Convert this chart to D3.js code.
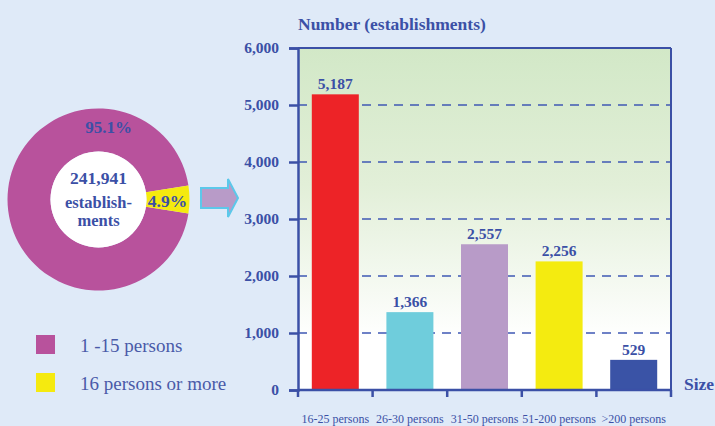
<!DOCTYPE html>
<html><head><meta charset="utf-8">
<script src="https://cdn.jsdelivr.net/npm/d3@7"></script>
<style>
html,body{margin:0;padding:0;background:#dfeaf8;}
svg{display:block;font-family:"Liberation Serif","Times New Roman",serif;}
</style></head>
<body><svg id="c" width="715" height="426"></svg>
<script>
const pieLabels = ["1 -15 persons", "16 persons or more"];
const pieValues = [95.1, 4.9];
const pieColors = ["#b8529c", "#f5ea0f"];
const totalLabel = ["241,941", "establish-", "ments"];

const categories = ["16-25 persons", "26-30 persons", "31-50 persons", "51-200 persons", ">200 persons"];
const values = [5187, 1366, 2557, 2256, 529];
const barColors = ["#ed2327", "#6fcddc", "#b89bc8", "#f4eb10", "#3a53a6"];
const yTicks = [0, 1000, 2000, 3000, 4000, 5000, 6000];

const ink = "#3b50a6";
const svg = d3.select("#c");

// ---------- Donut ----------
const cx = 98.5, cy = 199.5, rOut = 91, rIn = 48;
const pie = d3.pie().sort(null).value(d => d)
  .startAngle(Math.PI/2 + Math.PI*0.049).endAngle(Math.PI/2 + Math.PI*0.049 + 2*Math.PI);
const arcs = pie(pieValues);
const arc = d3.arc().innerRadius(rIn).outerRadius(rOut);
const dg = svg.append("g").attr("transform", `translate(${cx},${cy})`);
dg.selectAll("path").data(arcs).join("path").attr("d", arc).attr("fill", (d,i) => pieColors[i]);
dg.append("circle").attr("r", rIn).attr("fill", "#ffffff");
dg.append("text").attr("x", 10).attr("y", -72).attr("text-anchor","middle").attr("dominant-baseline","central")
  .attr("font-weight","bold").attr("font-size",17).attr("fill",ink).text(pieValues[0].toFixed(1)+"%");
dg.append("text").attr("x", 69).attr("y", 1).attr("text-anchor","middle").attr("dominant-baseline","central")
  .attr("font-weight","bold").attr("font-size",17.5).attr("fill",ink).text(pieValues[1].toFixed(1)+"%");
const cys = [-22, 2.5, 20.5];
totalLabel.forEach((t,i) => {
  dg.append("text").attr("x", 0).attr("y", cys[i]).attr("text-anchor","middle").attr("dominant-baseline","central")
    .attr("font-weight","bold").attr("font-size", i===0 ? 17.5 : 16.5).attr("fill",ink).text(t);
});

// ---------- Arrow ----------
svg.append("path")
  .attr("d","M201,188 L228,188 L228,179 L238,198 L228,217 L228,208 L201,208 Z")
  .attr("fill","#b89bc8").attr("stroke","#5cc8ea").attr("stroke-width",2);

// ---------- Legend ----------
const lg = svg.append("g");
pieLabels.forEach((t,i) => {
  const y = 335 + i*38;
  lg.append("rect").attr("x",36).attr("y",y).attr("width",19).attr("height",19).attr("fill",pieColors[i]);
  lg.append("text").attr("x",80).attr("y",y+10).attr("dominant-baseline","central")
    .attr("font-size",19).attr("fill","#4a5aa8").text(t);
});

// ---------- Bar chart ----------
const x0 = 298, x1 = 671, yTop = 48, yBot = 390;
const x = d3.scaleBand().domain(categories).range([x0, x1]).paddingInner(0.37).paddingOuter(0.185);
const y = d3.scaleLinear().domain([0, 6000]).range([yBot, yTop]);

const defs = svg.append("defs");
const grad = defs.append("linearGradient").attr("id","bg").attr("x1",0).attr("y1",0).attr("x2",0).attr("y2",1);
grad.append("stop").attr("offset","0%").attr("stop-color","#d2e8c7");
grad.append("stop").attr("offset","40%").attr("stop-color","#e2efd8");
grad.append("stop").attr("offset","85%").attr("stop-color","#ffffff");
grad.append("stop").attr("offset","100%").attr("stop-color","#ffffff");

svg.append("rect").attr("x",x0).attr("y",yTop).attr("width",x1-x0).attr("height",yBot-yTop).attr("fill","url(#bg)");

// grid
svg.append("g").selectAll("line").data(yTicks.filter(d => d>0 && d<6000)).join("line")
  .attr("x1",x0).attr("x2",x1).attr("y1",d=>y(d)).attr("y2",d=>y(d))
  .attr("stroke","#3f58b4").attr("stroke-width",1.3).attr("stroke-dasharray","9,7");

// bars
svg.append("g").selectAll("rect").data(values).join("rect")
  .attr("x",(d,i)=>x(categories[i])).attr("width",x.bandwidth())
  .attr("y",d=>y(d)).attr("height",d=>yBot-y(d)).attr("fill",(d,i)=>barColors[i]);

// value labels
svg.append("g").selectAll("text").data(values).join("text")
  .attr("x",(d,i)=>x(categories[i])+x.bandwidth()/2).attr("y",d=>y(d)-5)
  .attr("text-anchor","middle").attr("font-weight","bold").attr("font-size",15.5).attr("fill",ink)
  .text(d=>d3.format(",")(d));

// frame top/right
svg.append("line").attr("x1",x0).attr("x2",x1).attr("y1",yTop).attr("y2",yTop).attr("stroke",ink).attr("stroke-width",2);
svg.append("line").attr("x1",x1).attr("x2",x1).attr("y1",yTop).attr("y2",yBot).attr("stroke",ink).attr("stroke-width",2);

// y axis
const yAxis = d3.axisLeft(y).tickValues(yTicks).tickFormat(d3.format(",")).tickSize(9).tickPadding(10);
const ya = svg.append("g").attr("transform",`translate(${x0},0)`).call(yAxis);
ya.select(".domain").attr("stroke",ink).attr("stroke-width",2.5);
ya.selectAll(".tick line").attr("stroke",ink).attr("stroke-width",2.5);
ya.selectAll(".tick text").attr("font-family","Liberation Serif, serif").attr("font-weight","bold")
  .attr("font-size",15.5).attr("fill",ink);

// x axis
const xb = svg.append("g");
xb.append("line").attr("x1",x0).attr("x2",x1).attr("y1",yBot).attr("y2",yBot).attr("stroke",ink).attr("stroke-width",2.5);
const bounds = categories.map((c,i)=> i===0 ? x0 : (x(categories[i-1])+x.bandwidth()+x(c))/2).concat([x1]);
xb.selectAll("line.t").data(bounds).join("line").attr("class","t")
  .attr("x1",d=>d).attr("x2",d=>d).attr("y1",yBot).attr("y2",yBot+7).attr("stroke",ink).attr("stroke-width",2.5);
xb.selectAll("text").data(categories).join("text")
  .attr("x",c=>x(c)+x.bandwidth()/2).attr("y",419).attr("dominant-baseline","central")
  .attr("text-anchor","middle").attr("font-size",12).attr("fill",ink).text(c=>c);

// titles
svg.append("text").attr("x",298).attr("y",24).attr("dominant-baseline","central")
  .attr("font-weight","bold").attr("font-size",17.5).attr("fill",ink).text("Number (establishments)");
svg.append("text").attr("x",684).attr("y",384).attr("dominant-baseline","central")
  .attr("font-weight","bold").attr("font-size",17.5).attr("fill",ink).text("Size");
</script></body></html>
